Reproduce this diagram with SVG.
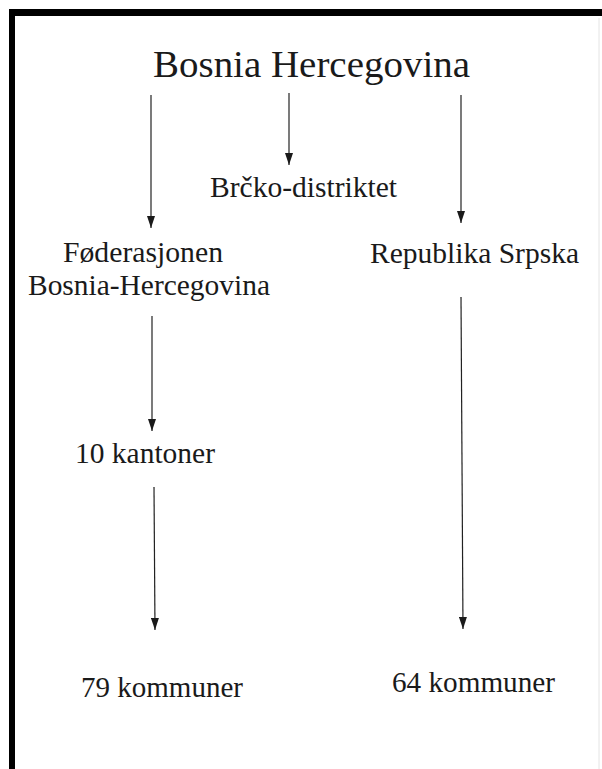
<svg xmlns="http://www.w3.org/2000/svg" width="602" height="769" viewBox="0 0 602 769" font-family="'Liberation Serif', 'Times New Roman', Tinos, serif">
  <style>
    text { font-family: 'Liberation Serif', 'Times New Roman', Tinos, serif; fill: #1a1a1a; }
    .conn { stroke: #222; stroke-width: 1.2; fill: none; marker-end: url(#arrow); }
  </style>
  <defs>
    <marker id="arrow" viewBox="0 -4 12 8" refX="12" refY="0" markerWidth="12" markerHeight="8" markerUnits="userSpaceOnUse" orient="auto">
      <path d="M0,-4 L12,0 L0,4 z" fill="#1a1a1a"/>
    </marker>
  </defs>
  <rect x="0" y="0" width="602" height="769" fill="#ffffff"/>
  <g id="frame">
    <rect x="9" y="9" width="593" height="7" fill="#000"/>
    <rect x="9" y="9" width="6" height="760" fill="#000"/>
    <line x1="599" y1="18" x2="599" y2="769" stroke="#e4e4e4" stroke-width="1"/>
  </g>
  <g id="connectors">
    <line class="conn" x1="151" y1="95" x2="151" y2="228"/>
    <line class="conn" x1="289" y1="93" x2="289" y2="165"/>
    <line class="conn" x1="461" y1="95" x2="461" y2="223"/>
    <line class="conn" x1="152" y1="316" x2="152" y2="431"/>
    <line class="conn" x1="461" y1="297" x2="463" y2="629"/>
    <line class="conn" x1="154" y1="487" x2="155" y2="630"/>
  </g>
  <g id="node-bih">
    <text x="153" y="77" font-family="Liberation Serif" font-size="37" textLength="317" lengthAdjust="spacingAndGlyphs">Bosnia Hercegovina</text>
  </g>
  <g id="node-brcko">
    <text x="210" y="197" font-family="Liberation Serif" font-size="30" textLength="187" lengthAdjust="spacingAndGlyphs">Brčko-distriktet</text>
  </g>
  <g id="node-fbih">
    <text x="63" y="262" font-family="Liberation Serif" font-size="30" textLength="160" lengthAdjust="spacingAndGlyphs">Føderasjonen</text>
    <text x="28" y="295" font-family="Liberation Serif" font-size="30" textLength="242" lengthAdjust="spacingAndGlyphs">Bosnia-Hercegovina</text>
  </g>
  <g id="node-rs">
    <text x="370" y="263" font-family="Liberation Serif" font-size="30" textLength="209" lengthAdjust="spacingAndGlyphs">Republika Srpska</text>
  </g>
  <g id="node-kantoner">
    <text x="75" y="463" font-family="Liberation Serif" font-size="30" textLength="140" lengthAdjust="spacingAndGlyphs">10 kantoner</text>
  </g>
  <g id="node-79">
    <text x="81" y="697" font-family="Liberation Serif" font-size="30" textLength="162" lengthAdjust="spacingAndGlyphs">79 kommuner</text>
  </g>
  <g id="node-64">
    <text x="392" y="692" font-family="Liberation Serif" font-size="30" textLength="163" lengthAdjust="spacingAndGlyphs">64 kommuner</text>
  </g>
</svg>
